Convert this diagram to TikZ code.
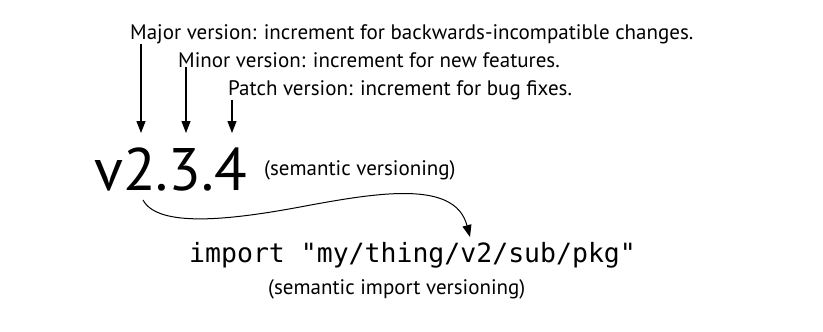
\documentclass[tikz,border=0pt]{standalone}
\usepackage{fontspec}
\setmainfont{PT Sans}
\setmonofont{DejaVu Sans Mono}
\usetikzlibrary{arrows.meta,positioning}
\tikzset{
  note/.style={anchor=base west, inner sep=0pt, font=\fontsize{21}{25}\selectfont},
  version/.style={anchor=base west, inner sep=0pt, font=\fontsize{60}{70}\selectfont},
  code/.style={anchor=base west, inner sep=0pt, font=\ttfamily\fontsize{26.5}{30}\selectfont},
  arrow/.style={line width=1.2pt,->,>={Triangle[length=12pt,width=9pt]}}
}
\begin{document}
\begin{tikzpicture}[x=1pt,y=-1pt]
  \useasboundingbox (0,0) rectangle (823,332);
  \node (major) [note] at (130,39) {Major version: increment for backwards-incompatible changes.};
  \node (minor) [note] at (178,67) {Minor version: increment for new features.};
  \node (patch) [note] at (228,95) {Patch version: increment for bug fixes.};
  \node (vers) [version] at (94,190) {v2.3.4};
  \node (semver) [note] at (264,175) {(semantic versioning)};
  \node (importpath) [code] at (189,262) {import "my/thing/v2/sub/pkg"};
  \node (semimport) [note] at (268,294) {(semantic import versioning)};

  \coordinate (majortip) at (141,133);
  \coordinate (minortip) at (186,133);
  \coordinate (patchtip) at (232,133);
  \coordinate (curvestart) at (143,200);
  \coordinate (curvetip) at (470,237);

  \draw [arrow] (major.south -| majortip) -- (majortip);
  \draw [arrow] (minor.south -| minortip) -- (minortip);
  \draw [arrow] (patch.south -| patchtip) -- (patchtip);
  \draw [arrow, line width=1pt] (curvestart) .. controls (158,228) and (230,220) .. (300,207)
    .. controls (380,192) and (455,180) .. (curvetip);
\end{tikzpicture}
\end{document}
